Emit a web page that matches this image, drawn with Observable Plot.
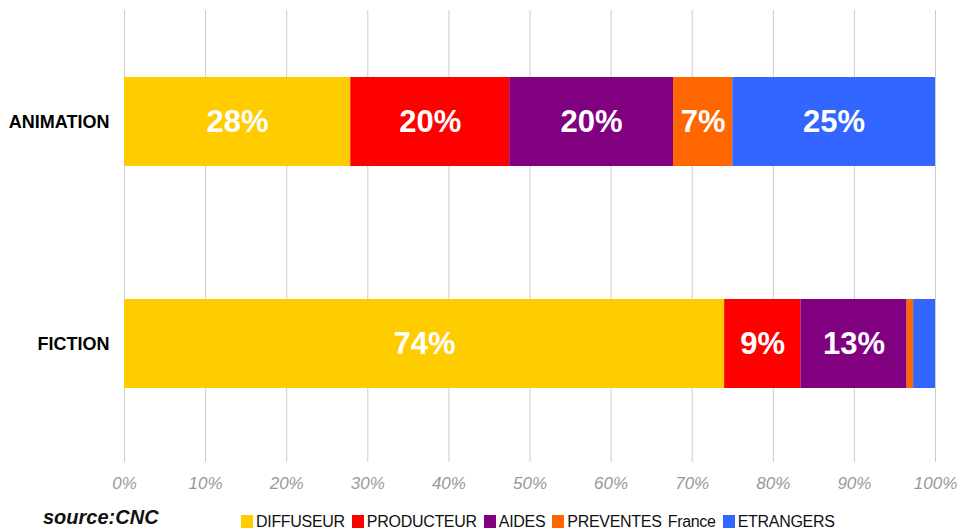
<!DOCTYPE html>
<html>
<head>
<meta charset="utf-8">
<script src="https://cdn.jsdelivr.net/npm/d3@7"></script>
<script src="https://cdn.jsdelivr.net/npm/@observablehq/plot@0.6"></script>
<style>
  html, body { margin: 0; padding: 0; background: #fff; }
  body { font-family: "Liberation Sans", Arial, sans-serif; width: 959px; height: 530px; overflow: hidden; position: relative; }
  #chart { position: absolute; left: 0; top: 0; }
  #caption { position: absolute; left: 43px; top: 506px; font-size: 20px; line-height: 22px; font-weight: bold; font-style: italic; color: #111; }
  #legend { position: absolute; left: 241px; top: 513px; display: flex; align-items: center; font-size: 16px; line-height: 17px; letter-spacing: -0.3px; word-spacing: 2px; color: #111; white-space: nowrap; }
  #legend .item { display: flex; align-items: center; margin-right: 7px; }
  #legend .sw { width: 12px; height: 13px; margin-right: 3px; }
</style>
</head>
<body>
<div id="chart"></div>
<div id="caption">source:CNC</div>
<div id="legend"></div>
<script>
const categories = ["ANIMATION", "FICTION"];
const series = ["DIFFUSEUR", "PRODUCTEUR", "AIDES", "PREVENTES France", "ETRANGERS"];
const colors = ["#FFCC00", "#FF0000", "#800080", "#FF6600", "#3366FF"];
const animationValues = [27.9, 19.6, 20.2, 7.3, 25.0];
const fictionValues = [74.0, 9.4, 13.1, 0.8, 2.7];
const xTicks = [0, 10, 20, 30, 40, 50, 60, 70, 80, 90, 100];

const valuesByCat = {ANIMATION: animationValues, FICTION: fictionValues};
const data = [];
for (const c of categories) {
  series.forEach((s, i) => data.push({cat: c, series: s, value: valuesByCat[c][i]}));
}

const chart = Plot.plot({
  width: 959,
  height: 500,
  marginTop: 10,
  marginBottom: 38,
  marginLeft: 124,
  marginRight: 24,
  style: {fontFamily: "'Liberation Sans', Arial, sans-serif", background: "#fff"},
  x: {domain: [0, 100]},
  y: {domain: categories, range: [10, 455], paddingInner: 0.6, paddingOuter: 0.3},
  color: {domain: series, range: colors},
  marks: [
    Plot.ruleX(xTicks, {stroke: "#cccccc", strokeWidth: 1}),
    Plot.barX(data, Plot.stackX({x: "value", y: "cat", fill: "series", order: series})),
    Plot.text(data, Plot.stackX({
      x: "value", y: "cat", z: "series", order: series,
      text: d => d.value >= 5 ? Math.round(d.value) + "%" : "",
      fill: "white", fontSize: 31, fontWeight: "bold"
    })),
    Plot.axisX({ticks: xTicks, tickSize: 0, tickPadding: 14, tickFormat: d => d + "%",
      fontSize: 17, fontStyle: "italic", fill: "#999999", label: null}),
    Plot.axisY({tickSize: 0, tickPadding: 15, fontSize: 18, fontWeight: "bold", fill: "#000", label: null})
  ]
});
document.getElementById("chart").appendChild(chart);

const legend = document.getElementById("legend");
series.forEach((s, i) => {
  const item = document.createElement("div");
  item.className = "item";
  const sw = document.createElement("span");
  sw.className = "sw";
  sw.style.background = colors[i];
  const t = document.createElement("span");
  t.textContent = s;
  item.appendChild(sw);
  item.appendChild(t);
  legend.appendChild(item);
});
</script>
</body>
</html>
